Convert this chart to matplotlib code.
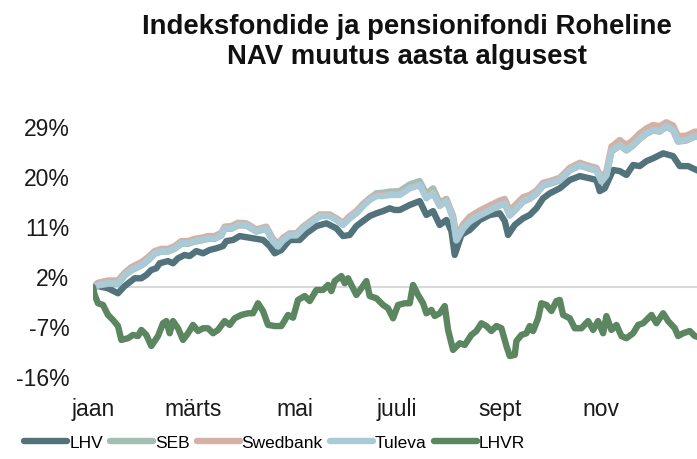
import matplotlib.pyplot as plt
import pandas as pd

plt.rcParams['font.family'] = ['Liberation Sans', 'DejaVu Sans']

start = pd.Timestamp("2024-01-01")

# day of year + NAV change (%)
lhv_days = [0, 3, 9, 15, 19, 25, 29, 32, 35, 38,
            40, 45, 48, 51, 55, 58, 62, 66, 70, 74,
            78, 80, 84, 88, 96, 102, 106, 109, 113, 118,
            124, 128, 134, 140, 146, 150, 154, 158, 162, 166,
            170, 174, 178, 181, 184, 190, 196, 200, 204, 208,
            212, 215, 217, 221, 226, 232, 238, 244, 247, 249,
            253, 258, 262, 266, 270, 274, 280, 286, 292, 298,
            302, 304, 307, 312, 316, 320, 324, 328, 332, 336,
            342, 348, 352, 357, 362, 365]
lhv = [0, 0.2, -0.2, -1.1, 0.2, 1.6, 1.6, 2.2, 3.1, 3.4,
       4.3, 4.7, 4.3, 5.2, 5.8, 5.6, 6.5, 6.1, 6.7, 7.0,
       7.4, 8.3, 8.5, 9.2, 8.8, 8.5, 7.4, 6.1, 6.7, 8.5,
       8.5, 9.7, 11.0, 11.5, 10.6, 9.2, 9.4, 11.0, 11.9, 12.8,
       13.3, 13.7, 14.2, 13.9, 13.9, 14.8, 15.5, 13.0, 13.7, 11.2,
       12.1, 10.1, 5.8, 9.4, 10.3, 12.1, 13.0, 13.3, 11.9, 9.4,
       11.2, 12.4, 13.0, 14.2, 16.0, 16.9, 17.8, 19.3, 20.0, 19.6,
       19.3, 17.3, 17.8, 21.1, 20.9, 20.2, 22.0, 21.8, 22.7, 23.2,
       24.1, 23.6, 21.8, 21.8, 21.1, 20.7]

fund_days = [0, 3, 9, 15, 19, 23, 29, 33, 37, 41,
             45, 49, 53, 57, 61, 65, 69, 73, 77, 79,
             83, 87, 92, 98, 104, 108, 111, 114, 118, 122,
             126, 130, 136, 142, 146, 150, 154, 158, 162, 166,
             170, 174, 178, 184, 190, 196, 200, 204, 208, 212,
             216, 218, 222, 226, 232, 238, 244, 247, 250, 254,
             258, 262, 266, 270, 274, 280, 286, 292, 298, 302,
             305, 308, 311, 316, 320, 324, 328, 332, 336, 340,
             344, 348, 351, 356, 361, 365]
seb = [0, 0.3, 0.6, 0.6, 2.1, 3.0, 3.9, 4.8, 6.0, 6.4,
       6.4, 6.9, 7.8, 7.8, 8.2, 8.4, 8.7, 8.7, 9.3, 10.5,
       10.5, 11.1, 11.1, 10.0, 10.5, 8.2, 7.3, 8.4, 9.3, 9.3,
       10.5, 11.4, 12.8, 12.9, 12.2, 11.3, 12.5, 13.4, 14.8, 16.0,
       16.9, 17.0, 17.2, 17.3, 18.5, 19.1, 16.8, 17.8, 15.2, 15.9,
       12.4, 8.4, 10.5, 11.8, 12.9, 13.8, 14.7, 15.0, 12.9, 14.1,
       15.4, 15.9, 16.8, 18.3, 18.6, 19.2, 21.0, 21.9, 21.3, 21.0,
       19.0, 20.1, 24.4, 25.5, 24.6, 25.5, 26.7, 27.6, 28.2, 28.0,
       28.9, 28.2, 26.2, 26.4, 27.1, 27.1]
swedbank = [0, 0.8, 1.2, 1.2, 2.6, 3.6, 4.5, 5.4, 6.5, 6.9,
            6.9, 7.4, 8.3, 8.3, 8.7, 8.9, 9.2, 9.2, 9.8, 10.9,
            11.0, 11.6, 11.5, 10.4, 10.9, 8.7, 7.8, 8.9, 9.7, 9.7,
            10.9, 11.8, 13.1, 13.1, 12.4, 11.6, 12.8, 13.7, 15.0, 16.0,
            16.6, 16.6, 16.8, 16.8, 17.9, 18.5, 16.2, 17.1, 14.9, 15.8,
            12.9, 9.0, 11.3, 12.7, 13.8, 14.7, 15.6, 15.9, 13.8, 15.0,
            16.2, 16.6, 17.4, 18.8, 19.1, 19.7, 21.5, 22.4, 21.8, 21.5,
            19.6, 20.9, 25.3, 26.5, 25.6, 26.5, 27.7, 28.6, 29.2, 29.0,
            29.7, 29.1, 27.2, 27.3, 28.0, 28.0]
tuleva = [0, 0.4, 0.7, 0.7, 2.2, 3.1, 4.0, 4.9, 6.1, 6.5,
          6.5, 7.0, 7.9, 7.9, 8.3, 8.5, 8.8, 8.8, 9.4, 10.6,
          10.6, 11.2, 11.2, 10.1, 10.6, 8.3, 7.4, 8.5, 9.4, 9.4,
          10.6, 11.5, 12.8, 12.8, 12.1, 11.2, 12.4, 13.3, 14.6, 15.7,
          16.4, 16.4, 16.6, 16.6, 17.8, 18.4, 16.0, 16.9, 14.6, 15.5,
          12.4, 8.5, 10.6, 11.9, 13.0, 13.9, 14.8, 15.1, 13.0, 14.2,
          15.5, 16.0, 16.9, 18.4, 18.7, 19.3, 21.1, 22.0, 21.4, 21.1,
          19.1, 20.2, 24.5, 25.6, 24.7, 25.6, 26.8, 27.7, 28.3, 28.1,
          29.0, 28.3, 26.3, 26.5, 27.2, 27.2]

lhvr_days = [0, 1, 3, 6, 9, 12, 15, 17, 21, 24,
             27, 29, 32, 35, 39, 42, 44, 46, 48, 51,
             54, 57, 60, 63, 66, 69, 72, 75, 79, 82,
             85, 89, 93, 96, 99, 102, 105, 109, 113, 117,
             120, 123, 127, 130, 134, 138, 141, 143, 145, 149,
             151, 153, 156, 158, 161, 164, 166, 170, 174, 177,
             180, 183, 187, 190, 192, 195, 198, 200, 203, 205,
             208, 211, 213, 216, 220, 223, 227, 230, 233, 236,
             239, 242, 245, 248, 250, 253, 254, 257, 260, 262,
             264, 267, 269, 272, 275, 278, 280, 282, 286, 289,
             293, 297, 300, 303, 306, 308, 311, 314, 317, 320,
             324, 327, 330, 333, 335, 338, 342, 345, 349, 351,
             354, 358, 361, 365]
lhvr = [0, -1.4, -2.9, -3.2, -5.0, -5.9, -7.0, -9.5, -9.2, -8.6,
        -8.8, -7.7, -8.6, -10.6, -8.8, -6.5, -6.1, -8.3, -6.1, -7.4,
        -9.5, -8.3, -6.8, -7.9, -7.4, -7.4, -8.3, -7.7, -6.1, -6.8,
        -5.6, -5.0, -4.7, -4.7, -2.9, -4.3, -6.8, -7.0, -7.0, -5.0,
        -5.5, -2.3, -1.6, -2.5, -0.5, -0.5, 0.4, -0.7, 1.1, 2.0,
        0.7, 1.6, -0.2, -1.4, -0.2, 1.1, -1.6, -2.0, -3.2, -3.8,
        -5.6, -3.2, -2.9, -2.9, 0.4, -1.4, -2.9, -4.7, -4.1, -5.2,
        -4.7, -3.4, -7.7, -11.3, -10.1, -10.4, -8.6, -7.9, -6.5, -7.0,
        -7.9, -7.0, -7.4, -10.6, -12.4, -12.2, -9.7, -8.6, -8.3, -7.0,
        -7.9, -5.6, -2.9, -3.2, -4.3, -2.5, -2.3, -5.0, -5.6, -7.4,
        -7.4, -6.1, -7.7, -6.1, -8.3, -5.2, -7.7, -6.8, -8.8, -9.2,
        -8.3, -6.8, -6.5, -5.6, -5.0, -6.5, -4.7, -6.1, -7.4, -8.8,
        -8.3, -7.9, -8.8, -9.2]

yticks = [29, 20, 11, 2, -7, -16]
month_ticks = ["2024-01-01", "2024-03-01", "2024-05-01", "2024-07-01", "2024-09-01", "2024-11-01"]
month_labels = ["jaan", "märts", "mai", "juuli", "sept", "nov"]


def to_dates(days):
    return start + pd.to_timedelta(days, unit="D")


fig = plt.figure(figsize=(6.97, 4.6), dpi=100)
ax = fig.add_axes([0.1334, 0.1804, 0.873, 0.5674])

ax.axhline(0, color="#d9d9d9", lw=1.5, zorder=0)

lw = 4.6
style = dict(lw=lw, solid_capstyle="round", solid_joinstyle="round")
ax.plot(to_dates(lhv_days), lhv, color="#52737c", label="LHV", **style)
ax.plot(to_dates(fund_days), seb, color="#a3bfb4", label="SEB", **style)
ax.plot(to_dates(fund_days), swedbank, color="#d3b2a5", label="Swedbank", **style)
ax.plot(to_dates(fund_days), tuleva, color="#a9cad6", label="Tuleva", **style)
ax.plot(to_dates(lhvr_days), lhvr, color="#5b8660", label="LHVR", **style)

ax.set_xlim(pd.Timestamp("2024-01-01"), pd.Timestamp("2024-12-31"))
ax.set_ylim(-16, 31)
ax.set_yticks(yticks)
ax.set_yticklabels([f"{t}%" for t in yticks])
ax.set_xticks(pd.to_datetime(month_ticks))
ax.set_xticklabels(month_labels)
ax.tick_params(axis="both", length=0, labelsize=16.5, colors="#1a1a1a")
ax.tick_params(axis="y", pad=17)
ax.tick_params(axis="x", pad=15)
for s in ax.spines.values():
    s.set_visible(False)

fig.text(407 / 697, 1 - 42 / 460, "Indeksfondide ja pensionifondi Roheline\nNAV muutus aasta algusest",
         ha="center", va="center", fontsize=19.8, fontweight="bold", color="#111111", linespacing=1.2)

fig.legend(loc="center left", bbox_to_anchor=(24 / 697, 1 - 443 / 460), ncol=5, frameon=False,
           fontsize=12.5, handlelength=2.5, handletextpad=0.1, columnspacing=0.4,
           borderaxespad=0, borderpad=0)

fig.savefig("out.png", dpi=100)
